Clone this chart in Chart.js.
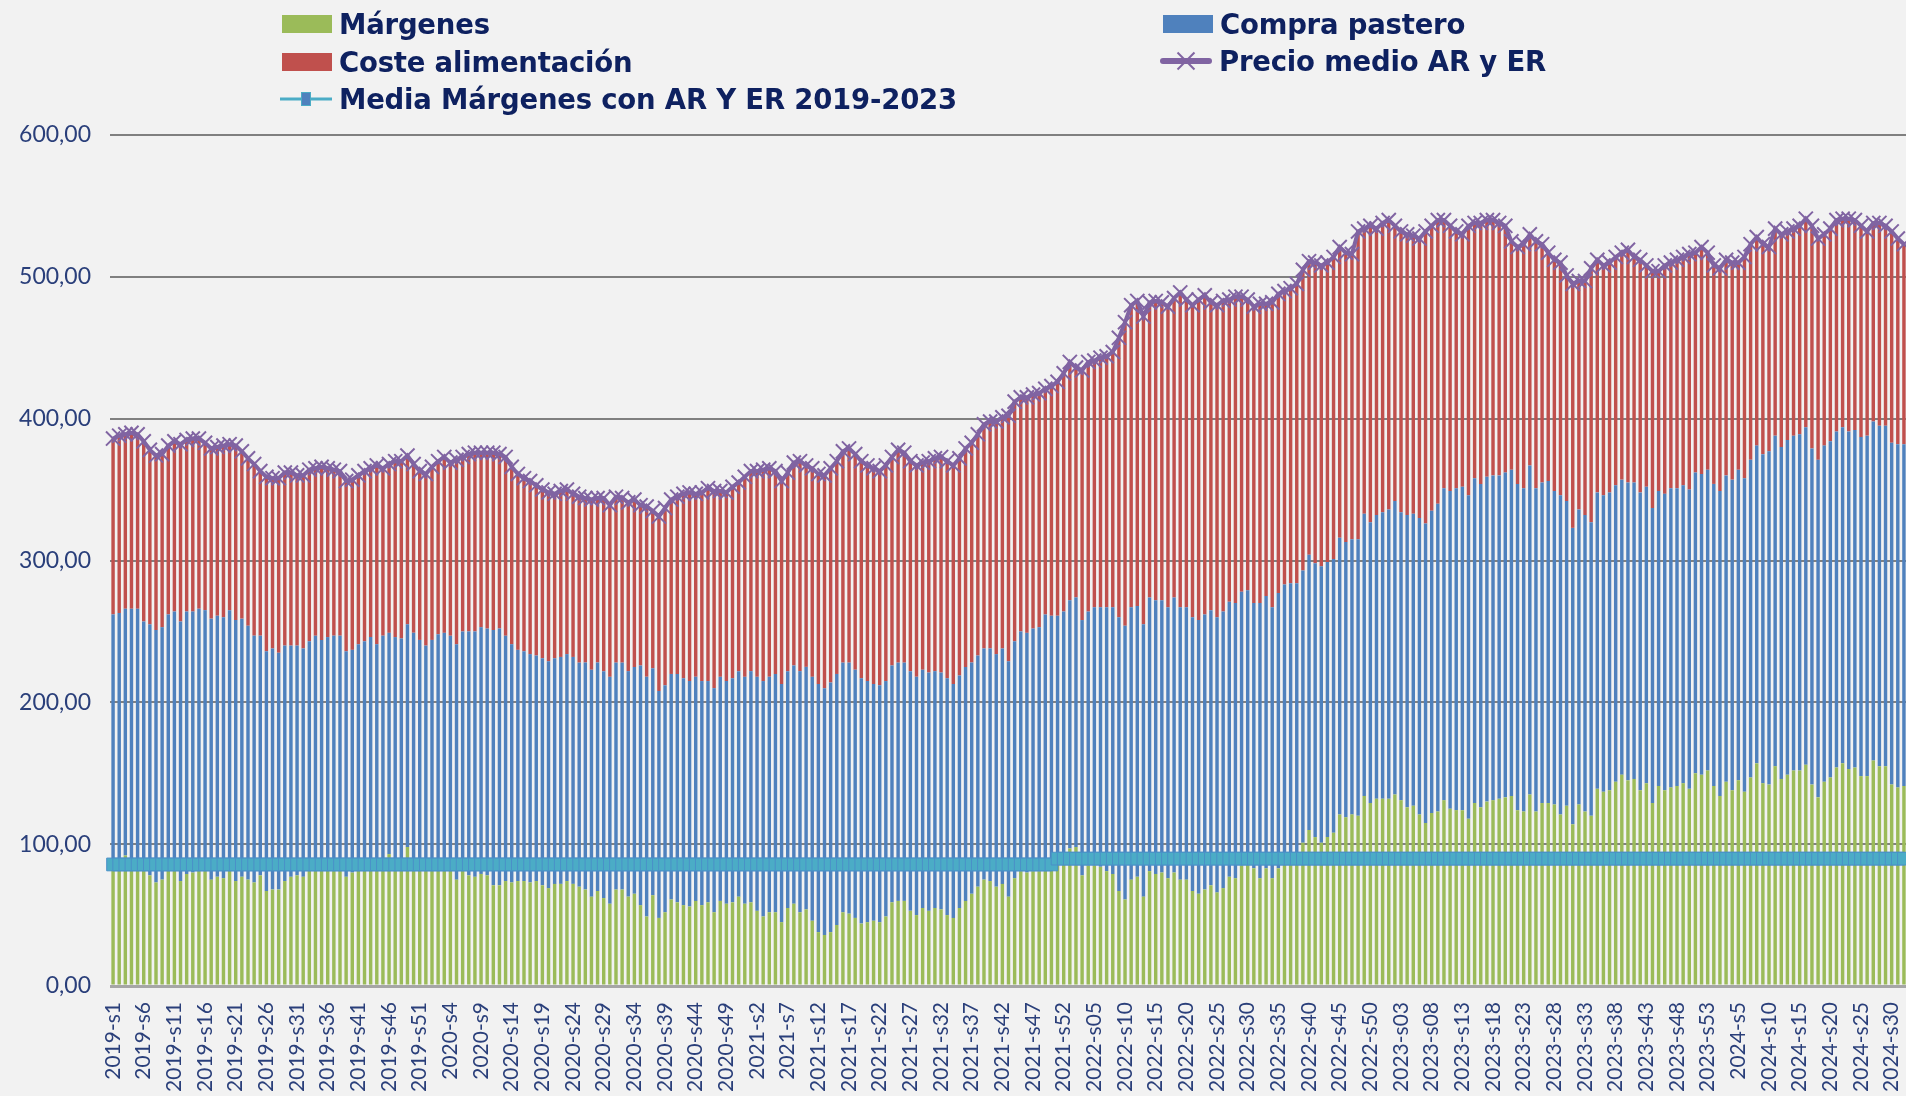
<!DOCTYPE html>
<html lang="es">
<head>
    <meta charset="UTF-8">
    <title>Márgenes AR y ER</title>
    <script src="https://cdn.jsdelivr.net/npm/chart.js@4.4.0/dist/chart.umd.min.js"></script>
    <style>
        html, body { margin: 0; padding: 0; background: #F2F2F2; }
        #wrap { position: relative; width: 1906px; height: 1096px; overflow: hidden; }
        #grafico { position: absolute; left: 0; top: 0; }
        .item {
            position: absolute; display: flex; align-items: center; gap: 7px;
            transform: translateY(-50%);
            font-family: "DejaVu Sans", sans-serif; font-weight: bold; font-size: 27.5px;
            color: #0E2160; white-space: nowrap; letter-spacing: -0.2px;
        }
        .caja { display: inline-block; width: 50px; height: 18px; }
        .simbolo { position: relative; display: inline-block; width: 52px; height: 24px; }
        .simbolo .raya { position: absolute; left: 0; right: 0; top: 50%; transform: translateY(-50%); }
        .simbolo .cuadro { position: absolute; left: 21px; top: 5px; width: 10px; height: 14px;
            background: #4F81BD; border: 1px solid #4BACC6; box-sizing: border-box; }
        .simbolo .aspa { position: absolute; left: 25px; top: 0; width: 2px; height: 24px; background: #8064A2; }
    </style>
</head>
<body>
<div id="wrap">
    <!-- el lienzo es algo mas ancho: el grafico original sigue hasta el borde derecho -->
    <canvas id="grafico" width="1919" height="1096"></canvas>

    <div class="item" style="left:282px;top:24px"><span class="caja" style="background:#9BBB59"></span>Márgenes</div>
    <div class="item" style="left:282px;top:62px"><span class="caja" style="background:#C0504D"></span>Coste alimentación</div>
    <div class="item" style="left:280px;top:99px">
        <span class="simbolo"><span class="raya" style="height:3px;background:#4BACC6"></span><span class="cuadro"></span></span>Media Márgenes con AR Y ER 2019-2023
    </div>
    <div class="item" style="left:1163px;top:24px"><span class="caja" style="background:#4F81BD"></span>Compra pastero</div>
    <div class="item" style="left:1160px;top:61px">
        <span class="simbolo"><span class="raya" style="height:6px;border-radius:3px;background:#8064A2"></span><span class="aspa" style="transform:rotate(45deg)"></span><span class="aspa" style="transform:rotate(-45deg)"></span></span>Precio medio AR y ER
    </div>
</div>

<script>
    // semanas: 2019-s1 ... 2024-s32 (2022 y 2023 con cero delante)
    const anios = ["2019", "2020", "2021", "2022", "2023", "2024"];
    const semanasPorAnio = [52, 52, 52, 52, 53, 32];
    const conCero = [false, false, false, true, true, false];

    const semanas = [];
    anios.forEach((a, k) => {
        for (let s = 1; s <= semanasPorAnio[k]; s++) {
            const num = conCero[k] && s < 10 ? "0" + s : "" + s;
            semanas.push(a + "-s" + num);
        }
    });

    // €/t por semana
    const margenes = [
        85,86,92,86,88,84,78,73,75,83, 84,74,79,80,84,85,75,77,76,82,
        74,77,75,73,78,67,68,68,74,77, 78,77,83,84,85,84,84,84,77,80,
        83,84,85,86,84,93,85,84,98,86, 84,83,85,86,85,84,75,83,78,77,
        79,78,71,71,74,73,74,74,73,74, 71,69,72,72,74,72,70,68,63,67,
        62,58,68,68,63,65,57,49,64,48, 52,61,59,57,56,60,57,59,52,60,
        58,59,63,58,59,53,49,52,52,45, 55,58,52,54,46,38,36,38,43,52,
        51,48,44,45,46,45,49,59,60,60, 53,50,55,53,55,54,50,48,55,60,
        65,70,75,74,70,72,63,76,81,80, 81,81,83,82,86,86,97,98,78,85,
        85,84,81,79,67,61,75,77,63,81, 79,80,76,80,75,75,67,65,68,71,
        66,69,77,76,85,86,83,76,83,76, 83,88,89,88,101,110,105,101,105,108,
        121,119,121,120,134,129,132,132,132,135, 131,126,127,121,115,122,123,131,125,124,
        124,118,129,126,130,131,132,133,134,124, 123,135,123,129,129,128,121,127,114,128,
        123,120,139,137,138,144,149,145,146,138, 143,129,141,138,140,141,143,139,150,149,
        152,141,134,144,138,145,137,147,157,143, 142,155,146,149,152,152,156,142,133,144,
        147,154,157,153,154,148,148,159,155,155, 142,140,141
    ];

    const compraPastero = [
        177,177,174,180,178,173,177,178,178,179, 180,183,185,184,182,180,184,184,184,183,
        184,182,179,174,169,169,170,167,166,163, 162,161,160,163,159,162,163,163,159,157,
        158,159,161,155,163,156,161,161,157,163, 160,157,159,162,164,163,166,167,172,173,
        174,174,180,181,173,168,163,162,161,159, 160,160,159,160,160,160,158,160,160,161,
        160,160,160,160,159,160,169,169,160,160, 160,159,161,160,159,158,158,156,158,158,
        157,158,159,160,163,165,166,166,168,168, 167,168,170,171,172,175,174,176,177,176,
        177,175,173,170,167,167,166,167,168,168, 169,168,168,168,167,167,167,165,164,165,
        163,163,163,164,164,166,166,167,169,169, 171,172,179,179,175,178,175,176,180,179,
        182,183,186,188,193,193,192,191,192,193, 193,192,191,194,192,192,193,193,194,194,
        194,195,194,194,193,193,187,194,192,191, 194,195,195,196,192,194,193,195,194,193,
        195,194,194,195,199,198,200,202,204,207, 203,206,206,209,211,213,217,220,224,227,
        228,228,229,228,229,229,228,229,230,230, 228,232,228,226,227,221,225,215,209,208,
        209,207,209,209,210,209,208,210,209,210, 209,208,208,209,211,210,210,211,212,212,
        212,213,215,216,219,219,221,224,224,232, 235,233,234,236,236,237,238,237,238,237,
        237,237,237,238,238,239,240,239,240,240, 241,242,241
    ];

    const costeAlimentacion = [
        124,125,123,124,123,127,123,123,122,119, 120,125,121,122,120,118,120,119,121,117,
        123,118,118,121,116,123,120,123,122,122, 120,122,121,118,122,119,117,116,120,120,
        119,120,119,126,118,119,124,125,119,119, 119,121,122,122,124,122,130,123,125,126,
        123,124,125,123,126,125,124,122,122,120, 119,119,116,117,116,115,117,116,120,116,
        122,121,117,116,119,118,113,120,111,123, 125,123,125,130,133,129,133,136,139,131,
        133,135,133,141,141,145,149,147,143,143, 140,143,148,142,147,148,150,151,150,149,
        151,152,153,152,152,151,152,147,150,148, 148,149,146,149,150,152,153,154,153,154,
        155,156,158,160,164,163,173,169,165,166, 165,165,159,162,165,168,168,162,176,176,
        174,176,177,180,197,214,213,215,217,208, 211,210,212,211,222,217,220,226,225,217,
        220,219,213,216,208,205,209,211,206,215, 211,207,208,211,212,207,212,212,211,213,
        205,204,201,217,201,209,202,204,204,194, 198,198,196,197,206,201,200,189,187,181,
        178,190,180,184,181,180,178,174,161,167, 172,163,174,168,161,163,164,159,172,161,
        165,179,164,162,162,161,160,164,159,164, 156,167,155,161,159,161,161,166,155,160,
        153,154,157,152,153,146,156,152,147,148, 144,146,150,147,146,147,147,157,156,149,
        150,149,147,150,148,149,144,140,143,141, 149,145,141
    ];

    const precioMedio = [
        386,388,389,390,389,384,378,374,375,381, 384,382,385,386,386,383,379,380,381,382,
        381,377,372,368,363,359,358,358,362,362, 360,360,364,365,366,365,364,363,356,357,
        360,363,365,367,365,368,370,370,374,368, 363,361,366,370,373,369,371,373,375,376,
        376,376,376,375,373,366,361,358,356,353, 350,348,347,349,350,347,345,344,343,344,
        344,339,345,344,341,343,339,338,335,331, 337,343,345,347,348,347,348,351,349,349,
        348,352,355,359,363,363,364,365,363,356, 362,369,370,367,365,361,360,365,370,377,
        379,375,370,367,365,363,367,373,378,376, 370,367,369,370,372,373,370,367,372,379,
        383,389,396,398,398,401,402,412,415,415, 417,418,421,423,426,432,440,436,434,440,
        441,443,444,447,457,468,480,483,472,482, 483,482,479,485,489,484,480,484,487,482,
        480,483,484,486,486,484,479,481,481,482, 488,490,492,495,505,511,510,508,510,514,
        521,517,516,532,534,536,534,538,540,536, 532,530,529,527,532,536,540,540,536,532,
        530,536,538,538,540,540,538,536,525,521, 523,530,525,523,517,512,510,501,495,497,
        497,506,512,508,510,514,517,519,514,512, 508,504,504,508,510,512,514,516,517,521,
        517,508,506,512,510,510,514,523,528,523, 521,534,530,532,534,536,541,536,527,530,
        534,540,541,541,540,536,532,538,538,536, 532,527,523
    ];

    // media de margenes: un valor hasta 2021-s51 y otro desde ahi
    const mediaTramo1 = 85.7;
    const mediaTramo2 = 89.8;
    const inicioTramo2 = "2021-s51";

    const corte = semanas.indexOf(inicioTramo2);
    const mediaMargenes = semanas.map((s, i) => i < corte ? mediaTramo1 : mediaTramo2);

    const ejeY = { min: 0, max: 600, paso: 100 };

    const fuenteEjes = "Lato, 'Open Sans', sans-serif";

    const chart = new Chart(document.getElementById("grafico"), {
        type: "bar",
        data: {
            labels: semanas,
            datasets: [
                { label: "Márgenes", data: margenes, backgroundColor: "#9BBB59", order: 2 },
                { label: "Compra pastero", data: compraPastero, backgroundColor: "#4F81BD", order: 2 },
                { label: "Coste alimentación", data: costeAlimentacion, backgroundColor: "#C0504D", order: 2 },
                {
                    type: "line", label: "Precio medio AR y ER", data: precioMedio, stack: "precio",
                    borderColor: "#8064A2", borderWidth: 4, tension: 0,
                    pointStyle: "crossRot", pointRadius: 10, pointBorderWidth: 2,
                    pointBorderColor: "#8064A2", pointBackgroundColor: "#8064A2", order: 0
                },
                {
                    type: "line", label: "Media Márgenes con AR Y ER 2019-2023", data: mediaMargenes, stack: "media",
                    borderColor: "#4BACC6", borderWidth: 3, tension: 0,
                    pointStyle: "rect", pointRadius: 9, pointBorderWidth: 1,
                    pointBorderColor: "#4A90C8", pointBackgroundColor: "#4BACC6", order: 1
                }
            ]
        },
        options: {
            responsive: false,
            animation: false,
            devicePixelRatio: 1,
            layout: { padding: { top: 135, left: 0, right: 0, bottom: 0 } },
            plugins: { legend: { display: false }, tooltip: { enabled: false } },
            datasets: { bar: { barPercentage: 0.56, categoryPercentage: 1.0 } },
            scales: {
                x: {
                    stacked: true,
                    grid: { display: false, drawTicks: false },
                    border: { display: false },
                    ticks: {
                        autoSkip: false, minRotation: 90, maxRotation: 90, padding: 16,
                        color: "#2A3F7A", font: { family: fuenteEjes, size: 21 },
                        callback: function (value, index) {
                            return index % 5 === 0 ? this.getLabelForValue(value) : "";
                        }
                    },
                    afterFit: (scale) => {
                        scale.height = 110;
                        scale.paddingLeft = 0;
                        scale.paddingRight = 0;
                    }
                },
                y: {
                    stacked: true,
                    z: 1,
                    min: ejeY.min, max: ejeY.max,
                    grid: {
                        drawTicks: false,
                        color: (ctx) => ctx.index === 0 ? "#A6A6A6" : "#808080",
                        lineWidth: (ctx) => ctx.index === 0 ? 3 : 2
                    },
                    border: { display: false },
                    ticks: {
                        stepSize: ejeY.paso, padding: 19,
                        color: "#2A3F7A", font: { family: fuenteEjes, size: 23 },
                        callback: (v) => v.toFixed(2).replace(".", ",")
                    },
                    afterFit: (scale) => { scale.width = 110; }
                }
            }
        }
    });
</script>
</body>
</html>
